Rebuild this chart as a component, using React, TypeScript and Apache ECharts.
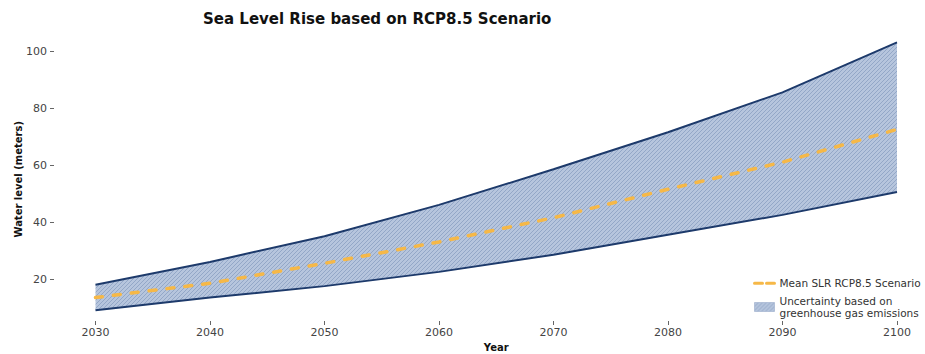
import React, { useEffect, useRef } from "react";
import * as echarts from "echarts";

// Projection years and sea level values (meters)
const years = ["2030", "2040", "2050", "2060", "2070", "2080", "2090", "2100"];
const upperBound = [18, 26, 35, 46, 58.5, 71.5, 85.5, 103];
const lowerBound = [9, 13.5, 17.5, 22.5, 28.5, 35.5, 42.5, 50.5];
const meanSlr = [13.5, 18.5, 25.5, 33, 41.5, 51.5, 61, 72.5];
const yTicks = [20, 40, 60, 80, 100];

const MEAN_NAME = "Mean SLR RCP8.5 Scenario";
const BAND_NAME = "Uncertainty based on\ngreenhouse gas emissions";
const FONT = "DejaVu Sans";

// Diagonal "////" hatch tile used for the uncertainty band
function makeHatch(): HTMLCanvasElement {
  const c = document.createElement("canvas");
  const s = 4;
  c.width = s;
  c.height = s;
  const ctx = c.getContext("2d")!;
  ctx.fillStyle = "#b6c5dd";
  ctx.fillRect(0, 0, s, s);
  ctx.strokeStyle = "#93a7c7";
  ctx.lineWidth = 1;
  ctx.beginPath();
  ctx.moveTo(0, s);
  ctx.lineTo(s, 0);
  ctx.moveTo(-1, 1);
  ctx.lineTo(1, -1);
  ctx.moveTo(s - 1, s + 1);
  ctx.lineTo(s + 1, s - 1);
  ctx.stroke();
  return c;
}

export default function App() {
  const ref = useRef<HTMLDivElement>(null);

  useEffect(() => {
    if (!ref.current) return;
    const chart = echarts.init(ref.current, null, { renderer: "svg" });
    const hatch = { image: makeHatch(), repeat: "repeat" as const };
    const spread = upperBound.map((u, i) => u - lowerBound[i]);

    chart.setOption({
      animation: false,
      backgroundColor: "#ffffff",
      title: {
        text: "Sea Level Rise based on RCP8.5 Scenario",
        left: 198,
        top: 6,
        textStyle: { fontFamily: FONT, fontSize: 15, fontWeight: "bold", color: "#111" },
      },
      grid: { left: 95.5, right: 28, top: 22.5, bottom: 18, outerBoundsMode: "none" },
      legend: {
        orient: "vertical",
        left: 748,
        top: 272,
        itemGap: 5,
        itemWidth: 20,
        itemHeight: 9,
        textStyle: { fontFamily: FONT, fontSize: 10.5, color: "#333", lineHeight: 12.5 },
        data: [
          {
            name: MEAN_NAME,
            itemStyle: { opacity: 0 },
            lineStyle: { color: "#f6b847", width: 3, type: [8, 4] },
          },
          {
            name: BAND_NAME,
            icon: "rect",
            itemStyle: { color: hatch, borderColor: "#8ea2c4", borderWidth: 0.5 },
          },
        ],
      },
      xAxis: {
        type: "category",
        data: years,
        boundaryGap: false,
        offset: -15,
        name: "Year",
        nameLocation: "middle",
        nameGap: 21,
        nameMoveOverlap: false,
        nameTextStyle: { fontFamily: FONT, fontSize: 10, fontWeight: "bold", color: "#111" },
        axisLine: { show: false },
        axisTick: { show: true, length: 4, lineStyle: { color: "#666" } },
        axisLabel: { fontFamily: FONT, fontSize: 11, color: "#444", margin: 6 },
        splitLine: { show: false },
      },
      yAxis: {
        type: "value",
        min: 0,
        max: 110,
        offset: 41.5,
        name: "Water level (meters)",
        nameLocation: "middle",
        nameGap: 31,
        nameMoveOverlap: false,
        nameTextStyle: { fontFamily: FONT, fontSize: 10, fontWeight: "bold", color: "#111" },
        axisLine: { show: false },
        axisTick: { show: true, length: 4, customValues: yTicks, lineStyle: { color: "#666" } },
        axisLabel: { fontFamily: FONT, fontSize: 11, color: "#444", margin: 7, customValues: yTicks },
        splitLine: { show: false },
      },
      series: [
        {
          name: "lower",
          type: "line",
          stack: "band",
          data: lowerBound,
          symbol: "none",
          lineStyle: { color: "#1d3a6b", width: 2 },
          z: 3,
        },
        {
          name: BAND_NAME,
          type: "line",
          stack: "band",
          data: spread,
          symbol: "none",
          color: "#b6c5dd",
          lineStyle: { color: "#1d3a6b", width: 2 },
          areaStyle: { color: hatch, opacity: 1 },
          z: 2,
        },
        {
          name: MEAN_NAME,
          type: "line",
          data: meanSlr,
          symbol: "none",
          color: "#f6b847",
          lineStyle: { color: "#f6b847", width: 3.5, type: [7, 11], cap: "round" },
          z: 4,
        },
      ],
    });
    return () => chart.dispose();
  }, []);

  return (
    <div
      ref={ref}
      style={{ position: "absolute", left: 0, top: 0, width: 925, height: 354 }}
    />
  );
}
